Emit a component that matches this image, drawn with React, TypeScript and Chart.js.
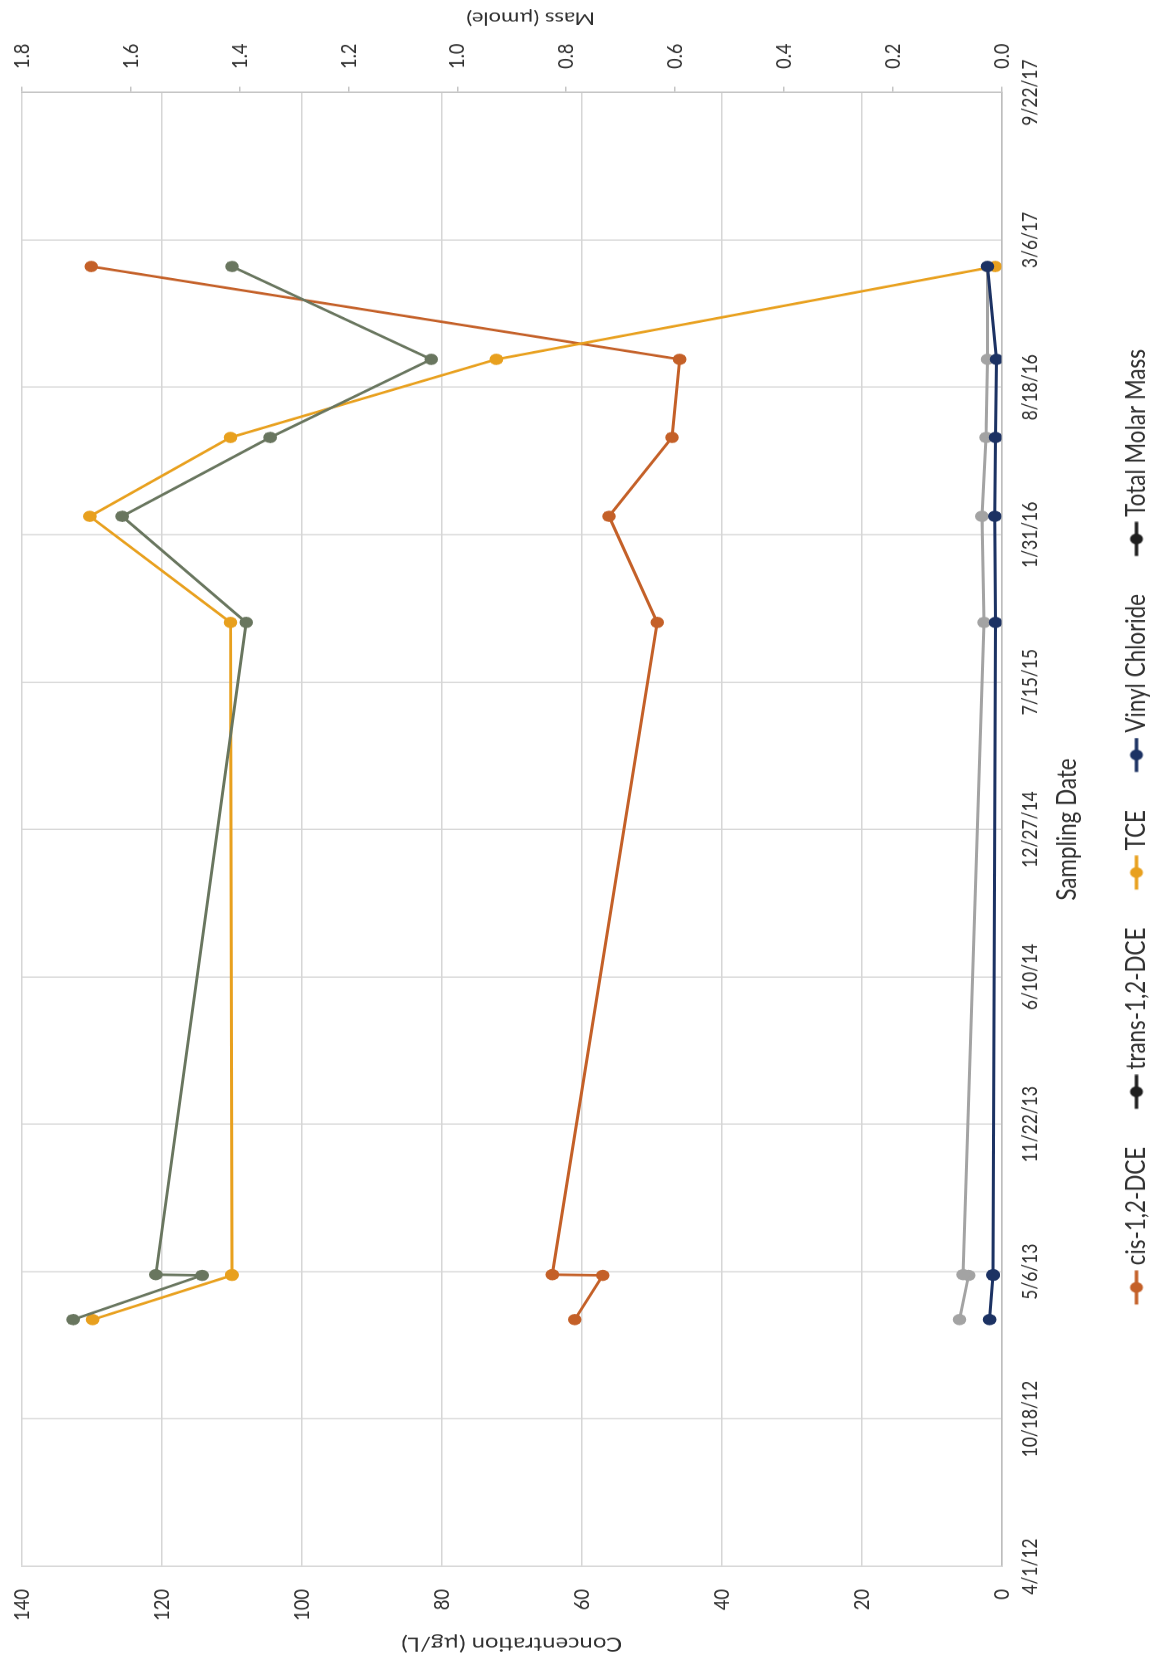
import React, { useEffect, useRef } from 'react';
import { Chart, registerables } from 'chart.js';

Chart.register(...registerables);

// ---------- data ----------
const axisStartDate = '2012-04-01';
const dayStep = 200;
const dayMax = 2000;
const tickDates = ['4/1/12', '10/18/12', '5/6/13', '11/22/13', '6/10/14', '12/27/14', '7/15/15', '1/31/16', '8/18/16', '3/6/17', '9/22/17'];

const sampleDates = ['2013-03-02', '2013-05-01', '2013-05-02', '2015-10-04', '2016-02-25', '2016-06-11', '2016-09-25', '2017-01-29'];

const cisDCE = [61.0, 57.0, 64.2, 49.2, 56.1, 47.1, 46.0, 130.1];
const transDCE = [6.0, 4.7, 5.5, 2.5, 2.8, 2.2, 2.0, 2.0];
const tce = [129.9, 110.0, 110.0, 110.2, 130.3, 110.2, 72.2, 0.9];
const vinylChloride = [1.7, 1.2, 1.2, 0.85, 0.95, 0.85, 0.7, 2.0];
const totalMolarMass = [1.706, 1.469, 1.554, 1.388, 1.616, 1.344, 1.048, 1.414];

const seriesNames = ['cis-1,2-DCE', 'trans-1,2-DCE', 'TCE', 'Vinyl Chloride', 'Total Molar Mass'];
const concMax = 140;
const concStep = 20;
const massMax = 1.8;
const massStep = 0.2;

const xTitle = 'Sampling Date';
const yTitle = 'Concentration (µg/L)';
const y1Title = 'Mass (µmole)';

// ---------- styles ----------
const FONT = 'Lato, "Liberation Sans", sans-serif';
const TEXT = '#303030';
const GRID = '#d6d6d6';
const lineColors = ['#c46028', '#a3a3a3', '#e8a01e', '#1c3263', '#69765f'];
const legendColors = ['#c46028', '#1e1e1e', '#e8a01e', '#1c3263', '#1e1e1e'];

// canvas is drawn in "unsquashed" coordinates, then squashed horizontally and rotated
const SQUASH = 0.83;
const CANVAS_W = 2010;
const CANVAS_H = 1160;
const LEGEND_BOX = 43.5;

function dayOf(s: string): number {
  return (Date.parse(s) - Date.parse(axisStartDate)) / 86400000;
}

function makeMarker(color: string): HTMLCanvasElement {
  const c = document.createElement('canvas');
  const w = LEGEND_BOX + 15;
  c.width = Math.round(w);
  c.height = 16;
  const g = c.getContext('2d')!;
  const start = w - 41;
  g.strokeStyle = color;
  g.lineWidth = 3.5;
  g.beginPath();
  g.moveTo(start, 8);
  g.lineTo(w, 8);
  g.stroke();
  g.fillStyle = color;
  g.beginPath();
  g.arc(start + 20.5, 8, 6.5, 0, Math.PI * 2);
  g.fill();
  return c;
}

const rightTitlePlugin = {
  id: 'rightTitle',
  afterDraw(chart: any) {
    const { ctx, chartArea } = chart;
    ctx.save();
    ctx.translate(chartArea.right + 89.8, (chartArea.top + chartArea.bottom) / 2 + 19);
    ctx.rotate(-Math.PI / 2);
    ctx.font = `22px ${FONT}`;
    ctx.fillStyle = TEXT;
    ctx.textAlign = 'center';
    ctx.textBaseline = 'middle';
    ctx.fillText(y1Title, 0, 0);
    ctx.restore();
  },
};

export default function App() {
  const ref = useRef<HTMLCanvasElement | null>(null);

  useEffect(() => {
    if (!ref.current) return;
    const allSeries = [cisDCE, transDCE, tce, vinylChloride, totalMolarMass];
    const datasets = allSeries.map((vals, i) => ({
      label: seriesNames[i],
      data: sampleDates.map((d, j) => ({ x: dayOf(d), y: vals[j] })),
      yAxisID: i === 4 ? 'y1' : 'y',
      borderColor: lineColors[i],
      backgroundColor: lineColors[i],
      pointBackgroundColor: lineColors[i],
      pointBorderColor: lineColors[i],
      pointRadius: 6.8,
      pointBorderWidth: 0,
      borderWidth: 3,
      tension: 0,
      order: 5 - i,
    }));
    const markers = legendColors.map((c) => makeMarker(c));

    const chart = new Chart(ref.current, {
      type: 'line',
      data: { datasets },
      plugins: [rightTitlePlugin],
      options: {
        responsive: false,
        animation: false,
        layout: { padding: { top: 22, left: 0, right: 0, bottom: 0 } },
        plugins: {
          tooltip: { enabled: false },
          legend: {
            position: 'bottom',
            labels: {
              usePointStyle: true,
              pointStyleWidth: LEGEND_BOX,
              padding: 36,
              color: TEXT,
              font: { family: FONT, size: 27 },
              sort: (a: any, b: any) => a.datasetIndex - b.datasetIndex,
              generateLabels: (c: any) => {
                const items = (Chart as any).defaults.plugins.legend.labels.generateLabels(c);
                return items.map((it: any) => ({
                  ...it,
                  pointStyle: markers[it.datasetIndex],
                  fontColor: TEXT,
                }));
              },
            },
          },
        },
        scales: {
          x: {
            type: 'linear',
            position: 'bottom',
            min: 0,
            max: dayMax,
            afterBuildTicks: (s: any) => {
              s.ticks = tickDates.map((_, i) => ({ value: i * dayStep }));
            },
            ticks: {
              autoSkip: false,
              maxRotation: 0,
              padding: 15.9,
              color: TEXT,
              font: { family: FONT, size: 21 },
              callback: (v: any) => tickDates[Math.round(Number(v) / dayStep)] ?? '',
            },
            grid: { color: GRID, lineWidth: 1.5, drawTicks: false },
            border: { color: '#bdbdbd', width: 1.5 },
            title: {
              display: true,
              text: xTitle,
              color: TEXT,
              font: { family: FONT, size: 27 },
              padding: { top: 0, bottom: 3.8 },
            },
            afterFit: (s: any) => {
              s.height = 85.5;
              s.paddingLeft = 0;
              s.paddingRight = 0;
            },
          },
          y: {
            type: 'linear',
            position: 'left',
            min: 0,
            max: concMax,
            ticks: {
              stepSize: concStep,
              padding: 27.1,
              color: TEXT,
              font: { family: FONT, size: 22 },
            },
            grid: { color: GRID, lineWidth: 1.5, drawTicks: false },
            border: { color: GRID, width: 1.5 },
            title: {
              display: true,
              text: yTitle,
              color: TEXT,
              font: { family: FONT, size: 24 },
              padding: { top: 10.9, bottom: 4 },
            },
            afterFit: (s: any) => {
              s.width = 118.7;
              s.paddingTop = 0;
              s.paddingBottom = 0;
            },
          },
          y1: {
            type: 'linear',
            position: 'right',
            min: 0,
            max: massMax,
            ticks: {
              stepSize: massStep,
              padding: 21.4,
              color: TEXT,
              font: { family: FONT, size: 22 },
              callback: (v: any) => Number(v).toFixed(1),
            },
            grid: { drawOnChartArea: false, drawTicks: true, tickLength: 7, color: '#c4c4c4', lineWidth: 1.5 },
            border: { color: '#c4c4c4', width: 1.5 },
            title: { display: false },
            afterFit: (s: any) => {
              s.width = CANVAS_W - 1894.5;
              s.paddingTop = 0;
              s.paddingBottom = 0;
            },
          },
        },
      } as any,
    });
    return () => chart.destroy();
  }, []);

  return (
    <div
      style={{
        position: 'absolute',
        left: 0,
        top: 0,
        width: 1152,
        height: 1665,
        overflow: 'hidden',
        background: '#ffffff',
      }}
    >
      <canvas
        ref={ref}
        width={CANVAS_W}
        height={CANVAS_H}
        style={{
          position: 'absolute',
          left: 0,
          top: 0,
          width: CANVAS_W,
          height: CANVAS_H,
          transformOrigin: '0 0',
          transform: `translate(0px, 1665px) rotate(-90deg) scale(${SQUASH}, 1)`,
        }}
      />
    </div>
  );
}
